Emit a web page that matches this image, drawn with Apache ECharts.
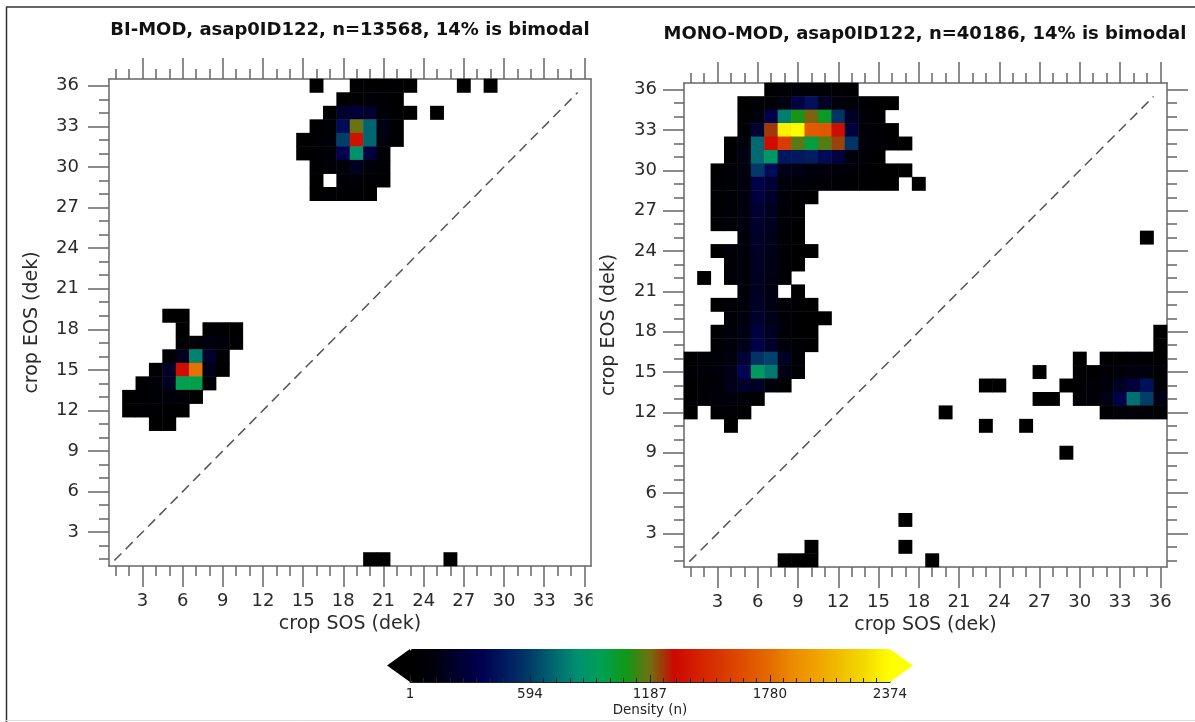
<!DOCTYPE html>
<html>
<head>
<meta charset="utf-8">
<title>crop SOS / EOS density</title>
<script src="https://cdn.jsdelivr.net/npm/echarts@6.0.0/dist/echarts.min.js"></script>
<style>
  html, body { margin: 0; padding: 0; background: #fff; }
  #chart { width: 1195px; height: 722px; }
</style>
</head>
<body>
<div id="chart"></div>
<script>
// dekads on both axes
var dekads = ['1','2','3','4','5','6','7','8','9','10','11','12','13','14','15','16','17','18',
  '19','20','21','22','23','24','25','26','27','28','29','30','31','32','33','34','35','36'];
var majorTicks = [3, 6, 9, 12, 15, 18, 21, 24, 27, 30, 33, 36];
var densityTicks = [1, 594, 1187, 1780, 2374];
var diagonal = [[0.9, 0.9], [35.5, 35.5]];

var biTitle = 'BI-MOD, asap0ID122, n=13568, 14% is bimodal';
var monoTitle = 'MONO-MOD, asap0ID122, n=40186, 14% is bimodal';

// BI-MOD cells: [SOS dekad, EOS dekad, count]
var biUpper = [
  [16,36,4],[19,36,18],[20,36,25],[21,36,22],[22,36,15],[23,36,8],[27,36,3],[29,36,2],
  [18,35,30],[19,35,55],[20,35,60],[21,35,40],[22,35,20],
  [17,34,25],[18,34,230],[19,34,260],[20,34,220],[21,34,70],[22,34,35],[23,34,12],[25,34,4],
  [16,33,20],[17,33,70],[18,33,400],[19,33,1180],[20,33,700],[21,33,140],[22,33,30],
  [15,32,12],[16,32,40],[17,32,90],[18,32,600],[19,32,1350],[20,32,710],[21,32,120],[22,32,25],
  [15,31,10],[16,31,35],[17,31,80],[18,31,350],[19,31,850],[20,31,300],[21,31,45],
  [16,30,25],[17,30,60],[18,30,110],[19,30,190],[20,30,100],[21,30,30],
  [16,29,15],[18,29,45],[19,29,60],[20,29,40],[21,29,18],
  [16,28,10],[17,28,20],[18,28,25],[19,28,22],[20,28,12]
];
var biLower = [
  [5,19,8],[6,19,10],
  [6,18,15],[8,18,12],[9,18,18],[10,18,10],
  [6,17,30],[7,17,60],[8,17,130],[9,17,110],[10,17,20],
  [5,16,40],[6,16,180],[7,16,790],[8,16,220],[9,16,50],
  [4,15,30],[5,15,210],[6,15,1330],[7,15,1800],[8,15,160],[9,15,35],
  [3,14,20],[4,14,80],[5,14,190],[6,14,950],[7,14,960],[8,14,60],
  [2,13,10],[3,13,30],[4,13,70],[5,13,80],[6,13,60],[7,13,20],
  [2,12,8],[3,12,20],[4,12,40],[5,12,35],[6,12,15],
  [4,11,6],[5,11,8]
];
var biStray = [[20,1,5],[21,1,6],[26,1,3]];

// MONO-MOD cells
var monoMain = [
  [7,36,30],[8,36,60],[9,36,80],[10,36,85],[11,36,70],[12,36,50],[13,36,20],
  [5,35,15],[6,35,50],[7,35,90],[8,35,140],[9,35,310],[10,35,420],[11,35,200],[12,35,110],[13,35,70],[14,35,40],[15,35,20],[16,35,8],
  [5,34,30],[6,34,120],[7,34,330],[8,34,780],[9,34,1080],[10,34,1200],[11,34,1040],[12,34,560],[13,34,210],[14,34,90],[15,34,25],
  [5,33,40],[6,33,250],[7,33,1250],[8,33,2330],[9,33,2374],[10,33,1700],[11,33,1690],[12,33,1340],[13,33,280],[14,33,100],[15,33,40],[16,33,10],
  [4,32,20],[5,32,120],[6,32,720],[7,32,1330],[8,32,1560],[9,32,1160],[10,32,990],[11,32,1150],[12,32,1240],[13,32,560],[14,32,110],[15,32,50],[16,32,25],[17,32,8],
  [4,31,35],[5,31,150],[6,31,720],[7,31,880],[8,31,450],[9,31,460],[10,31,480],[11,31,400],[12,31,300],[13,31,120],[14,31,60],[15,31,20],
  [3,30,15],[4,30,60],[5,30,130],[6,30,580],[7,30,400],[8,30,170],[9,30,150],[10,30,120],[11,30,100],[12,30,80],[13,30,60],[14,30,40],[15,30,30],[16,30,15],[17,30,6],
  [3,29,20],[4,29,70],[5,29,120],[6,29,330],[7,29,260],[8,29,110],[9,29,90],[10,29,70],[11,29,50],[12,29,40],[13,29,30],[14,29,20],[15,29,12],[16,29,6],
  [3,28,25],[4,28,70],[5,28,120],[6,28,290],[7,28,220],[8,28,90],[9,28,40],[10,28,10],
  [3,27,25],[4,27,80],[5,27,130],[6,27,240],[7,27,190],[8,27,70],[9,27,20],
  [3,26,20],[4,26,75],[5,26,125],[6,26,230],[7,26,180],[8,26,60],[9,26,15],
  [5,25,110],[6,25,220],[7,25,170],[8,25,50],[9,25,12],
  [3,24,10],[4,24,60],[5,24,120],[6,24,210],[7,24,160],[8,24,50],[9,24,20],[10,24,6],
  [4,23,50],[5,23,110],[6,23,200],[7,23,150],[8,23,40],[9,23,10],
  [4,22,45],[5,22,105],[6,22,190],[7,22,140],[8,22,30],
  [5,21,100],[6,21,200],[7,21,130],[9,21,8],
  [3,20,10],[4,20,55],[5,20,120],[6,20,210],[7,20,150],[8,20,50],[9,20,25],[10,20,8],
  [4,19,60],[5,19,130],[6,19,230],[7,19,160],[8,19,70],[9,19,35],[10,19,15],[11,19,5],
  [3,18,20],[4,18,80],[5,18,150],[6,18,290],[7,18,190],[8,18,80],[9,18,30],[10,18,10],
  [3,17,40],[4,17,100],[5,17,170],[6,17,320],[7,17,220],[8,17,100],[9,17,40],[10,17,12],
  [1,16,30],[2,16,50],[3,16,90],[4,16,130],[5,16,260],[6,16,560],[7,16,610],[8,16,200],[9,16,50],
  [1,15,40],[2,15,60],[3,15,100],[4,15,160],[5,15,380],[6,15,900],[7,15,760],[8,15,150],[9,15,40],
  [1,14,35],[2,14,55],[3,14,90],[4,14,170],[5,14,220],[6,14,200],[7,14,110],[8,14,30],
  [1,13,30],[2,13,45],[3,13,80],[4,13,120],[5,13,90],[6,13,30],
  [1,12,10],[3,12,30],[4,12,45],[5,12,20],
  [4,11,8]
];
var monoEast = [
  [36,18,6],[36,17,8],
  [30,16,5],[32,16,20],[33,16,35],[34,16,40],[35,16,30],[36,16,15],
  [30,15,15],[31,15,25],[32,15,60],[33,15,110],[34,15,130],[35,15,120],[36,15,40],
  [29,14,10],[30,14,30],[31,14,50],[32,14,120],[33,14,200],[34,14,280],[35,14,430],[36,14,90],
  [30,13,25],[31,13,60],[32,13,150],[33,13,330],[34,13,740],[35,13,600],[36,13,150],
  [32,12,30],[33,12,60],[34,12,80],[35,12,70],[36,12,40]
];
var monoStray = [
  [2,22,3],[18,29,3],[35,25,4],[27,15,3],[23,14,4],[24,14,3],[27,13,4],[28,13,3],
  [20,12,3],[23,11,3],[26,11,4],[29,9,3],[17,4,2],[10,2,3],[17,2,2],
  [8,1,3],[9,1,4],[10,1,5],[19,1,2]
];

var densityColors = ['#000000','#00000c','#000030','#000050','#001c60','#003c68','#006870',
  '#009070','#00a050','#109818','#707010','#cc0800','#d42000','#d83800','#e05000',
  '#e46c00','#ec8c00','#f0a400','#f0c000','#f4dc00','#ffff00'];

var gray = '#666';
var font = 'DejaVu Sans';

function toCells(list) {
  return list.map(function (d) { return [String(d[0]), String(d[1]), d[2]]; });
}

function catAxis(grid, pos, ticks) {
  return {
    type: 'category', gridIndex: grid, position: pos, data: dekads, boundaryGap: true,
    axisLine: { show: true, onZero: false, lineStyle: { color: gray, width: 1.5 } },
    axisTick: { show: ticks, alignWithLabel: true, interval: 0, length: 10,
      lineStyle: { color: gray, width: 1.5 } },
    axisLabel: { show: false },
    splitLine: { show: false }, splitArea: { show: false }
  };
}

function valAxis(grid, pos, margin, name, nameGap) {
  var ax = {
    type: 'value', gridIndex: grid, position: pos, min: 0.5, max: 36.5,
    axisLine: { show: false, onZero: false },
    axisTick: { show: true, customValues: majorTicks, length: 21,
      lineStyle: { color: gray, width: 1.5 } },
    axisLabel: { show: false },
    splitLine: { show: false }
  };
  if (margin != null) {
    ax.axisLabel = { show: true, customValues: majorTicks, margin: margin,
      fontFamily: font, fontSize: 18, color: '#2a2a2a' };
    ax.name = name;
    ax.nameLocation = 'middle';
    ax.nameGap = nameGap;
    ax.nameTextStyle = { fontFamily: font, fontSize: 19, color: '#2a2a2a' };
  }
  return ax;
}

function diagonalLine(xi, yi) {
  return {
    type: 'line', xAxisIndex: xi, yAxisIndex: yi, data: diagonal,
    symbol: 'none', silent: true, z: 5,
    lineStyle: { color: '#555', width: 1.5, type: [10, 6] }
  };
}

var chart = echarts.init(document.getElementById('chart'), null, { renderer: 'canvas' });

chart.setOption({
  backgroundColor: '#fff',
  animation: false,
  grid: [
    { left: 109, top: 79, width: 482, height: 487 },
    { left: 684, top: 83, width: 483, height: 484 },
    { left: 410, top: 649, width: 480, height: 33 }
  ],
  xAxis: [
    catAxis(0, 'bottom', true),
    catAxis(0, 'top', true),
    valAxis(0, 'bottom', 26, 'crop SOS (dek)', 49),
    valAxis(0, 'top'),
    catAxis(1, 'bottom', true),
    catAxis(1, 'top', true),
    valAxis(1, 'bottom', 26, 'crop SOS (dek)', 47),
    valAxis(1, 'top'),
    {
      type: 'value', gridIndex: 2, position: 'bottom', min: 1, max: 2374, z: 10,
      axisLine: { show: true, onZero: false, lineStyle: { color: '#222', width: 1 } },
      axisTick: { show: true, inside: true, length: 7, customValues: densityTicks,
        lineStyle: { color: '#222', width: 1 } },
      axisLabel: { show: true, customValues: densityTicks, margin: 5,
        fontFamily: font, fontSize: 13.5, color: '#222',
        formatter: function (v) { return String(Math.round(v)); } },
      splitLine: { show: false },
      name: 'Density (n)', nameLocation: 'middle', nameGap: 21,
      nameTextStyle: { fontFamily: font, fontSize: 13.5, color: '#222' }
    },
    {
      type: 'value', gridIndex: 2, position: 'bottom', min: 0, max: 36, interval: 1, z: 10,
      axisLine: { show: false, onZero: false },
      axisTick: { show: true, inside: true, length: 4, lineStyle: { color: '#222', width: 1 } },
      axisLabel: { show: false },
      splitLine: { show: false }
    }
  ],
  yAxis: [
    catAxis(0, 'left', true),
    catAxis(0, 'right', false),
    valAxis(0, 'left', 30, 'crop EOS (dek)', 67),
    catAxis(1, 'left', true),
    catAxis(1, 'right', true),
    valAxis(1, 'left', 27, 'crop EOS (dek)', 65),
    valAxis(1, 'right'),
    { type: 'value', gridIndex: 2, show: false, min: 0, max: 1 }
  ],
  visualMap: {
    type: 'continuous', min: 1, max: 2374, seriesIndex: [0, 1], dimension: 2,
    orient: 'horizontal', left: 410, top: 649, itemWidth: 33, itemHeight: 480,
    padding: 0, calculable: false, hoverLink: false,
    inRange: { color: densityColors }
  },
  series: [
    {
      type: 'heatmap', name: 'BI-MOD', xAxisIndex: 0, yAxisIndex: 0,
      data: toCells(biUpper.concat(biLower, biStray)),
      emphasis: { disabled: true }
    },
    {
      type: 'heatmap', name: 'MONO-MOD', xAxisIndex: 4, yAxisIndex: 3,
      data: toCells(monoMain.concat(monoEast, monoStray)),
      emphasis: { disabled: true }
    },
    diagonalLine(2, 2),
    diagonalLine(6, 5)
  ],
  graphic: [
    { type: 'text', x: 350, y: 30.5, z: 20,
      style: { text: biTitle, font: 'bold 18px "DejaVu Sans"', fill: '#111',
        align: 'center', verticalAlign: 'middle' } },
    { type: 'text', x: 925, y: 34, z: 20,
      style: { text: monoTitle, font: 'bold 18px "DejaVu Sans"', fill: '#111',
        align: 'center', verticalAlign: 'middle' } },
    // colour bar end arrows
    { type: 'polygon', z: 20, shape: { points: [[410, 649], [387, 665.5], [410, 682]] },
      style: { fill: '#000' } },
    { type: 'polygon', z: 20, shape: { points: [[890, 649], [913, 665.5], [890, 682]] },
      style: { fill: '#ffff00' } },
    // right panel overlaps the last tick label of the left panel
    { type: 'rect', z: 20, shape: { x: 592.5, y: 586, width: 8, height: 28 },
      style: { fill: '#fff' } },
    // outer frame
    { type: 'line', z: 20, shape: { x1: 6, y1: 7, x2: 1195, y2: 7 },
      style: { stroke: '#333', lineWidth: 1.5 } },
    { type: 'line', z: 20, shape: { x1: 6.5, y1: 7, x2: 6.5, y2: 722 },
      style: { stroke: '#333', lineWidth: 1.5 } },
    { type: 'line', z: 20, shape: { x1: 6, y1: 720.5, x2: 1195, y2: 720.5 },
      style: { stroke: '#ddd', lineWidth: 1 } }
  ]
});
</script>
</body>
</html>
